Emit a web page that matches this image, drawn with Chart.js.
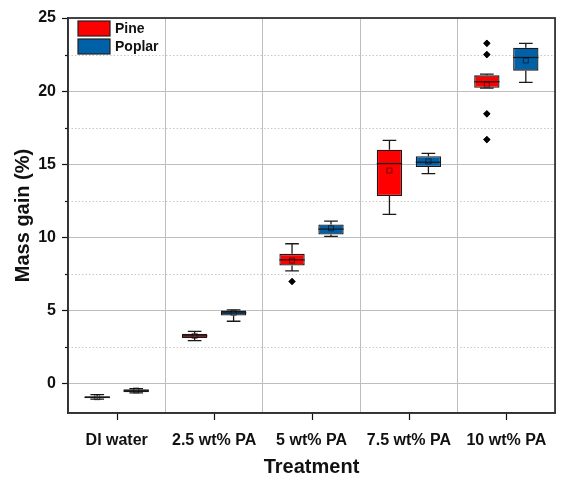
<!DOCTYPE html>
<html>
<head>
<meta charset="utf-8">
<script src="https://cdn.jsdelivr.net/npm/chart.js@4.4.1/dist/chart.umd.min.js"></script>
<style>
  html, body { margin: 0; padding: 0; background: #fff; }
  #wrap { width: 565px; height: 479px; }
</style>
</head>
<body>
<div id="wrap"><canvas id="boxChart"></canvas></div>
<script>
// categories and box statistics
const categories = ['DI water', '2.5 wt% PA', '5 wt% PA', '7.5 wt% PA', '10 wt% PA'];

const pineMin      = [-1.05, 2.95, 7.72, 11.58, 20.20];
const pineQ1       = [-1.00, 3.12, 8.08, 12.83, 20.23];
const pineMedian   = [-0.93, 3.27, 8.47, 15.05, 20.64];
const pineQ3       = [-0.85, 3.42, 8.88, 16.00, 21.08];
const pineMax      = [-0.75, 3.58, 9.57, 16.64, 21.16];
const pineMean     = [-0.92, 3.27, 8.42, 14.57, 20.45];
const pineOutliers = [[], [], [6.99], [], [23.27, 22.50, 18.45, 16.69]];

const poplarMin      = [-0.62, 4.27, 10.07, 14.36, 20.60];
const poplarQ1       = [-0.58, 4.66, 10.20, 14.82, 21.40];
const poplarMedian   = [-0.48, 4.84, 10.57, 15.14, 22.30];
const poplarQ3       = [-0.38, 5.00, 10.89, 15.55, 22.97];
const poplarMax      = [-0.33, 5.05, 11.12, 15.75, 23.27];
const poplarMean     = [-0.46, 4.85, 10.63, 15.20, 22.10];
const poplarOutliers = [[], [], [], [], []];

const yTicks = [0, 5, 10, 15, 20, 25];
const yMinorTicks = [2.5, 7.5, 12.5, 17.5, 22.5];

const stats = [
  { min: pineMin, med: pineMedian, max: pineMax, mean: pineMean, out: pineOutliers },
  { min: poplarMin, med: poplarMedian, max: poplarMax, mean: poplarMean, out: poplarOutliers }
];

const FONT = "'Liberation Sans', Arial, sans-serif";
const INK = '#111';

// minor grid, tick marks on the category axis, whiskers, medians, means, outliers, frame, legend
const boxExtras = {
  id: 'boxExtras',
  beforeDatasetsDraw(chart) {
    const { ctx, chartArea: a, scales: { x, y } } = chart;
    ctx.save();
    ctx.strokeStyle = '#c8c8c8';
    ctx.lineWidth = 1;
    ctx.setLineDash([1.5, 2]);
    yMinorTicks.forEach(v => {
      const py = Math.round(y.getPixelForValue(v)) + 0.5;
      ctx.beginPath(); ctx.moveTo(a.left, py); ctx.lineTo(a.right, py); ctx.stroke();
    });
    ctx.setLineDash([]);
    ctx.strokeStyle = INK;
    ctx.lineWidth = 1.2;
    yMinorTicks.forEach(v => {
      const py = Math.round(y.getPixelForValue(v)) + 0.5;
      ctx.beginPath(); ctx.moveTo(a.left - 3, py); ctx.lineTo(a.left, py); ctx.stroke();
    });
    categories.forEach((c, i) => {
      const px = Math.round(x.getPixelForValue(i)) + 0.5;
      ctx.beginPath(); ctx.moveTo(px, a.bottom); ctx.lineTo(px, a.bottom + 7); ctx.stroke();
    });
    ctx.restore();
  },
  afterDatasetsDraw(chart) {
    const { ctx, chartArea: a, scales: { y } } = chart;
    ctx.save();
    chart.data.datasets.forEach((ds, di) => {
      const meta = chart.getDatasetMeta(di);
      const s = stats[di];
      meta.data.forEach((bar, i) => {
        const cx = bar.x;
        const w = bar.width;
        const lo = ds.data[i][0], hi = ds.data[i][1];
        ctx.strokeStyle = '#1a1a1a';
        ctx.lineWidth = 1.3;
        // whiskers
        ctx.beginPath();
        ctx.moveTo(cx, y.getPixelForValue(hi)); ctx.lineTo(cx, y.getPixelForValue(s.max[i]));
        ctx.moveTo(cx, y.getPixelForValue(lo)); ctx.lineTo(cx, y.getPixelForValue(s.min[i]));
        const cap = w * 0.27;
        ctx.moveTo(cx - cap, y.getPixelForValue(s.max[i])); ctx.lineTo(cx + cap, y.getPixelForValue(s.max[i]));
        ctx.moveTo(cx - cap, y.getPixelForValue(s.min[i])); ctx.lineTo(cx + cap, y.getPixelForValue(s.min[i]));
        ctx.stroke();
        // median
        ctx.beginPath();
        ctx.moveTo(cx - w / 2, y.getPixelForValue(s.med[i]));
        ctx.lineTo(cx + w / 2, y.getPixelForValue(s.med[i]));
        ctx.stroke();
        // mean
        ctx.lineWidth = 1;
        ctx.strokeStyle = 'rgba(0,0,0,0.55)';
        const my = y.getPixelForValue(s.mean[i]);
        ctx.strokeRect(cx - 2.5, my - 2.5, 5, 5);
        // outliers
        s.out[i].forEach(v => {
          ctx.fillStyle = '#000';
          Chart.helpers.drawPoint(ctx, { pointStyle: 'rectRot', radius: 3.6, rotation: 0, borderWidth: 0 },
            cx, y.getPixelForValue(v));
          ctx.fill();
        });
      });
    });
    ctx.restore();
  },
  afterDraw(chart) {
    const { ctx, chartArea: a } = chart;
    ctx.save();
    ctx.strokeStyle = '#333';
    ctx.lineWidth = 1.8;
    ctx.strokeRect(a.left, a.top, a.right - a.left, a.bottom - a.top);
    // legend
    chart.data.datasets.forEach((ds, di) => {
      const lx = a.left + 10, ly = a.top + 3 + di * 18;
      ctx.fillStyle = ds.backgroundColor;
      ctx.fillRect(lx, ly, 32, 15);
      ctx.strokeStyle = '#222';
      ctx.lineWidth = 1.2;
      ctx.strokeRect(lx, ly, 32, 15);
      ctx.fillStyle = INK;
      ctx.font = 'bold 14px ' + FONT;
      ctx.textBaseline = 'middle';
      ctx.fillText(ds.label, lx + 37, ly + 8);
    });
    ctx.restore();
  }
};

new Chart(document.getElementById('boxChart'), {
  type: 'bar',
  data: {
    labels: categories,
    datasets: [
      {
        label: 'Pine',
        data: pineQ1.map((v, i) => [v, pineQ3[i]]),
        backgroundColor: 'rgb(255,0,0)',
        borderColor: '#1a1a1a',
        borderWidth: 1.3,
        borderSkipped: false
      },
      {
        label: 'Poplar',
        data: poplarQ1.map((v, i) => [v, poplarQ3[i]]),
        backgroundColor: 'rgb(0,96,168)',
        borderColor: '#1a1a1a',
        borderWidth: 1.3,
        borderSkipped: false
      }
    ]
  },
  options: {
    responsive: true,
    maintainAspectRatio: false,
    animation: false,
    categoryPercentage: 0.8,
    barPercentage: 0.65,
    layout: { padding: { top: 18, right: 8, left: 0, bottom: 0 } },
    plugins: { legend: { display: false }, tooltip: { enabled: false } },
    scales: {
      x: {
        afterFit: s => { s.height = 66; },
        grid: { offset: true, color: '#bdbdbd', lineWidth: 1, drawTicks: false },
        border: { color: '#222', width: 1.5 },
        ticks: { color: INK, font: { family: FONT, size: 16, weight: 'bold' }, padding: 18, maxRotation: 0 },
        title: { display: true, text: 'Treatment', color: INK, font: { family: FONT, size: 20, weight: 'bold' }, padding: 0 }
      },
      y: {
        min: -2,
        max: 25,
        afterFit: s => { s.width = 68; },
        afterBuildTicks: s => { s.ticks = yTicks.map(v => ({ value: v })); },
        grid: { color: '#bdbdbd', lineWidth: 1, tickColor: INK, tickLength: 6, tickWidth: 1.2 },
        border: { color: '#222', width: 1.5 },
        ticks: { color: INK, font: { family: FONT, size: 16, weight: 'bold' }, padding: 6 },
        title: { display: true, text: 'Mass gain (%)', color: INK, font: { family: FONT, size: 20, weight: 'bold' }, padding: { top: 11, bottom: 0 } }
      }
    }
  },
  plugins: [boxExtras]
});
</script>
</body>
</html>
